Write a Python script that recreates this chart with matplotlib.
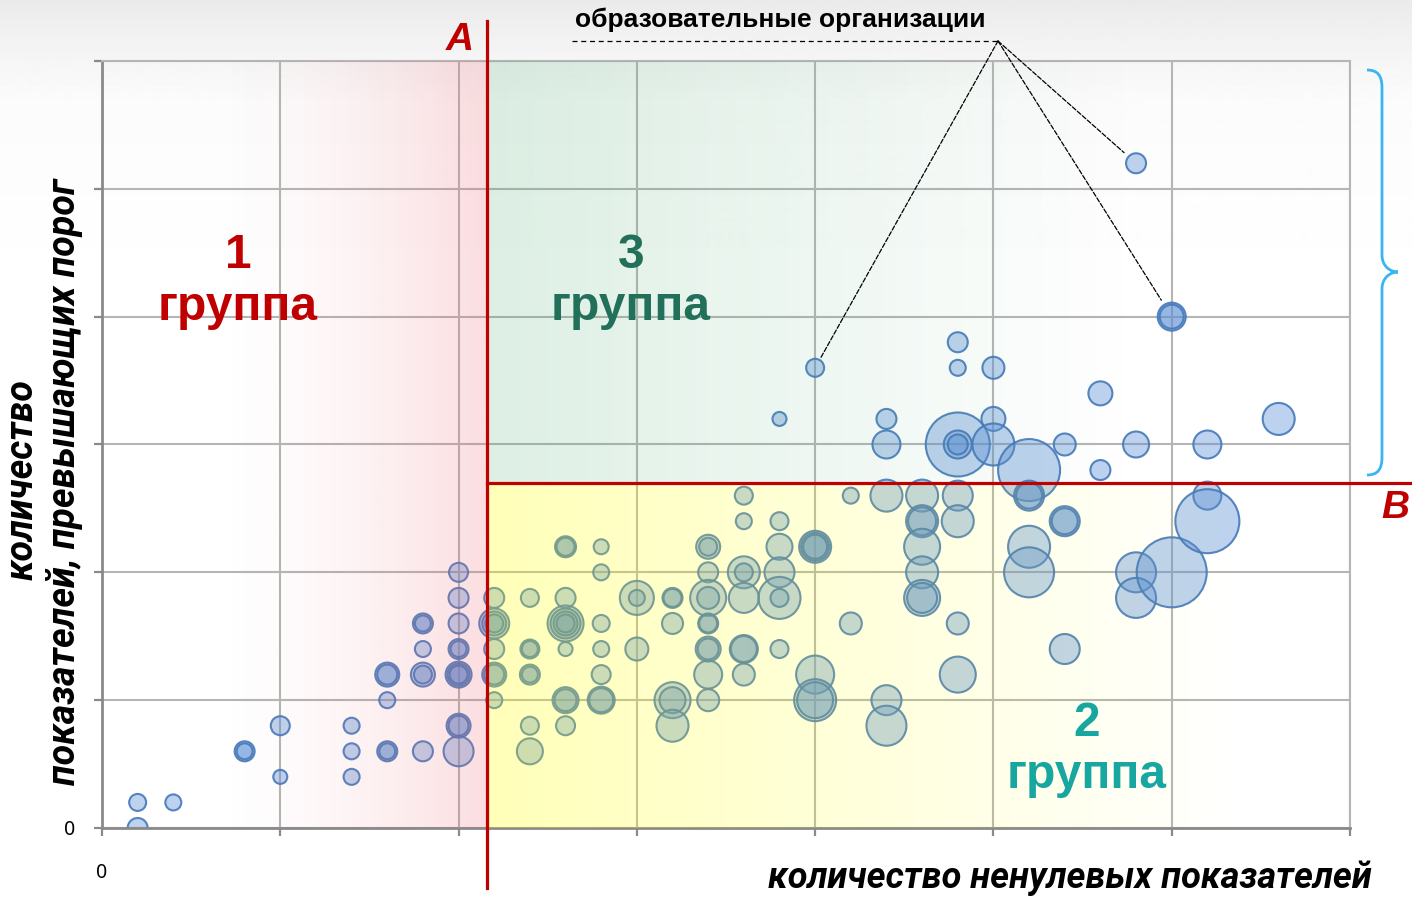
import numpy as np
import matplotlib.pyplot as plt
from matplotlib.lines import Line2D
from matplotlib.path import Path
from matplotlib.patches import PathPatch

W, H = 1412, 897


def px(x, y):
    # pixel position (from top-left) -> figure fraction
    return x / W, 1 - y / H


# bubbles: x = non-zero indicators, y = indicators above threshold, w = bubble weight
bubbles = [
    (1, 0, 10), (1, 1, 8.5), (2, 1, 8),
    (4, 3, 10), (4, 3, 8),
    (5, 4, 9.5), (5, 2, 7),
    (7, 4, 8), (7, 3, 8), (7, 2, 8),
    (8, 6, 12), (8, 6, 10), (8, 5, 8), (8, 3, 10), (8, 3, 8),
    (9, 8, 10), (9, 8, 8), (9, 7, 8), (9, 6, 12), (9, 6, 9), (9, 3, 10),
    (10, 10, 9.5), (10, 9, 10), (10, 8, 10), (10, 7, 10), (10, 7, 8), (10, 6, 13), (10, 6, 11),
    (10, 6, 9), (10, 4, 12), (10, 4, 10), (10, 3, 15),
    (11, 9, 10), (11, 8, 15), (11, 8, 12), (11, 8, 9), (11, 7, 10), (11, 6, 12), (11, 6, 10), (11, 5, 8),
    (12, 9, 9), (12, 7, 9.5), (12, 7, 8), (12, 6, 10), (12, 6, 8), (12, 4, 9), (12, 3, 13),
    (13, 11, 10.5), (13, 11, 9), (13, 9, 10), (13, 8, 18), (13, 8, 15), (13, 8, 12), (13, 8, 9),
    (13, 7, 7), (13, 5, 13), (13, 5, 11), (13, 4, 9.5),
    (14, 11, 7.5), (14, 10, 8), (14, 8, 8.5), (14, 7, 8), (14, 6, 9.5), (14, 5, 13.5), (14, 5, 12),
    (15, 9, 17), (15, 9, 8), (15, 7, 11.5),
    (16, 9, 10), (16, 9, 9), (16, 8, 10.5), (16, 5, 18), (16, 5, 13), (16, 4, 16),
    (17, 11, 12), (17, 11, 9), (17, 10, 10), (17, 9, 18), (17, 9, 11), (17, 8, 10), (17, 8, 9),
    (17, 7, 12.5), (17, 7, 10.5), (17, 6, 14), (17, 5, 11),
    (18, 13, 9), (18, 12, 8), (18, 10, 16), (18, 10, 9), (18, 9, 15), (18, 7, 14), (18, 7, 13), (18, 6, 11),
    (19, 16, 7), (19, 12, 9), (19, 11, 13), (19, 10, 15), (19, 9, 21), (19, 9, 9), (19, 7, 9),
    (20, 18, 9), (20, 11, 16), (20, 11, 14), (20, 11, 12), (20, 6, 19), (20, 5, 21), (20, 5, 18),
    (21, 13, 8), (21, 8, 11),
    (22, 16, 10), (22, 15, 14), (22, 13, 16), (22, 5, 15), (22, 4, 20),
    (23, 13, 16), (23, 12, 16), (23, 12, 14), (23, 11, 18), (23, 10, 16), (23, 9, 18), (23, 9, 15),
    (24, 19, 10), (24, 18, 8), (24, 15, 32), (24, 15, 14), (24, 15, 10), (24, 13, 15), (24, 12, 16),
    (24, 8, 11), (24, 6, 18),
    (25, 18, 11), (25, 16, 12), (25, 15, 21),
    (26, 14, 31), (26, 13, 15), (26, 13, 13), (26, 11, 21), (26, 10, 25),
    (27, 15, 11), (27, 12, 15), (27, 12, 13), (27, 7, 15),
    (28, 17, 12), (28, 14, 10),
    (29, 26, 10), (29, 15, 13), (29, 10, 20), (29, 9, 20),
    (30, 20, 14), (30, 20, 12), (30, 10, 35),
    (31, 15, 14), (31, 13, 14), (31, 12, 32),
    (33, 16, 16),
]
bx = np.array([b[0] for b in bubbles], dtype=float)
by = np.array([b[1] for b in bubbles], dtype=float)
bw = np.array([b[2] for b in bubbles], dtype=float)

line_a = 10.8   # threshold on x
line_b = 13.5   # threshold on y
x_max, y_max = 35, 30

# bubbles pointed at by the label
marked = [(20, 18, 8), (29, 26, 11.5), (30, 20, 14)]

fig = plt.figure(figsize=(W / 100, H / 100), dpi=100)

# light grey fade at the top of the slide
bg = fig.add_axes([0, 0, 1, 1], zorder=-10)
rows = np.arange(H)
shade = 0.915 + 0.07 * np.clip(rows / 100, 0, 1) ** 0.8 + 0.015 * np.clip((rows - 100) / 200, 0, 1)
bg.imshow(shade[:, None], cmap='gray', vmin=0, vmax=1, extent=[0, 1, 0, 1], aspect='auto')
bg.axis('off')

ax = fig.add_axes([102 / W, 1 - 828 / H, (1350 - 102) / W, (828 - 61) / H])
ax.patch.set_alpha(0)
ax.set_xlim(0, x_max)
ax.set_ylim(0, y_max)
ax.set_xticks(range(0, x_max + 1, 5))
ax.set_yticks(range(0, y_max + 1, 5))
ax.set_xticklabels([])
ax.set_yticklabels([])
ax.grid(True, color='#b5b5b5', lw=1.5)
ax.set_axisbelow(True)
for s in ['left', 'bottom']:
    ax.spines[s].set_color('#8a8a8a')
    ax.spines[s].set_linewidth(2)
for s in ['top', 'right']:
    ax.spines[s].set_color('#b5b5b5')
    ax.spines[s].set_linewidth(1.5)
ax.tick_params(direction='out', length=6, width=1.6, color='#8a8a8a')

ax.scatter(bx, by, s=(1.44 * bw) ** 2, facecolor=(0.36, 0.56, 0.84, 0.40),
           edgecolor=(0.27, 0.47, 0.73, 0.9), linewidth=1.5, zorder=2)


def overlay(rgb, a0, fade_end, x0, x1, y0, y1, rising=False):
    xs = np.linspace(x0, x1, 400)
    if rising:
        t = np.clip((xs - fade_end) / (x1 - fade_end), 0, 1) ** 1.6
    else:
        t = np.clip(1 - (xs - x0) / (fade_end - x0), 0, 1)
    img = np.zeros((1, len(xs), 4))
    img[..., :3] = rgb
    img[..., 3] = a0 * t
    ax.imshow(img, extent=[x0, x1, y0, y1], aspect='auto', zorder=3,
              interpolation='bilinear')


# group zones
overlay((0.94, 0.40, 0.45), 0.22, 3.0, 0, line_a, 0, y_max, rising=True)
overlay((1.0, 1.0, 0.0), 0.28, 32, line_a, x_max, 0, line_b)
overlay((0.30, 0.68, 0.45), 0.19, 29, line_a, x_max, line_b, y_max)
ax.set_xlim(0, x_max)
ax.set_ylim(0, y_max)

# threshold lines A and B
red = '#c00000'
ax.plot([line_a, line_a], [-2.35, 31.55], color=red, lw=2.3, clip_on=False, zorder=5)
ax.plot([line_a, 37.2], [line_b, line_b], color=red, lw=2.3, clip_on=False, zorder=5)
fig.text(*px(460, 40), 'A', color=red, fontsize=28, fontweight='bold', style='italic',
         family='Liberation Sans', ha='center', va='center')
fig.text(*px(1395, 508), 'B', color=red, fontsize=28, fontweight='bold', style='italic',
         family='Liberation Sans', ha='center', va='center')

# group labels
grp = dict(fontsize=34.5, fontweight='bold', family='Liberation Sans', ha='center',
           va='center', linespacing=1.2)
fig.text(*px(238, 281), '1\nгруппа', color='#c00000', **grp)
fig.text(*px(631, 281), '3\nгруппа', color='#22705a', **grp)
fig.text(*px(1087, 749), '2\nгруппа', color='#17a6a0', **grp)

# label with leader lines
fig.text(*px(780, 20), 'образовательные организации', fontsize=19, fontweight='bold',
         family='Liberation Sans', ha='center', va='center')
fig.add_artist(Line2D([572 / W, 998 / W], [1 - 41 / H] * 2, transform=fig.transFigure,
                      color='k', lw=0.9, ls=(0, (4, 3))))
for mx, my, shrink in marked:
    ax.annotate('', xy=(mx, my), xycoords='data', xytext=px(998, 41),
                textcoords='figure fraction',
                arrowprops=dict(arrowstyle='-', color='k', lw=0.9, ls='--',
                                shrinkA=0, shrinkB=shrink), zorder=6)

# brace over the upper zone
brace = [(1367, 70), (1378, 70), (1382, 76), (1382, 88),
         (1382, 255), (1382, 266), (1390, 272), (1398, 272),
         (1390, 272), (1382, 278), (1382, 289),
         (1382, 457), (1382, 469), (1378, 475), (1367, 475)]
codes = [Path.MOVETO, Path.CURVE4, Path.CURVE4, Path.CURVE4,
         Path.LINETO, Path.CURVE4, Path.CURVE4, Path.CURVE4,
         Path.CURVE4, Path.CURVE4, Path.CURVE4,
         Path.LINETO, Path.CURVE4, Path.CURVE4, Path.CURVE4]
verts = [px(x, y) for x, y in brace]
fig.add_artist(PathPatch(Path(verts, codes), transform=fig.transFigure, fill=False,
                         edgecolor='#3bb4f2', lw=2))

# axis titles
lab = dict(fontweight='bold', style='italic', family='Roboto')
fig.text(*px(1372, 878), 'количество ненулевых показателей', ha='right', va='center',
         fontsize=26, **lab)
fig.text(*px(22, 480), 'количество', rotation=90, ha='center', va='center', fontsize=27, **lab)
fig.text(*px(65, 482), 'показателей, превышающих порог', rotation=90, ha='center',
         va='center', fontsize=27, **lab)

fig.text(*px(70, 830), '0', fontsize=14, family='Noto Sans', ha='center', va='center')
fig.text(*px(102, 873), '0', fontsize=14, family='Noto Sans', ha='center', va='center')

fig.savefig('out.png', dpi=100)
